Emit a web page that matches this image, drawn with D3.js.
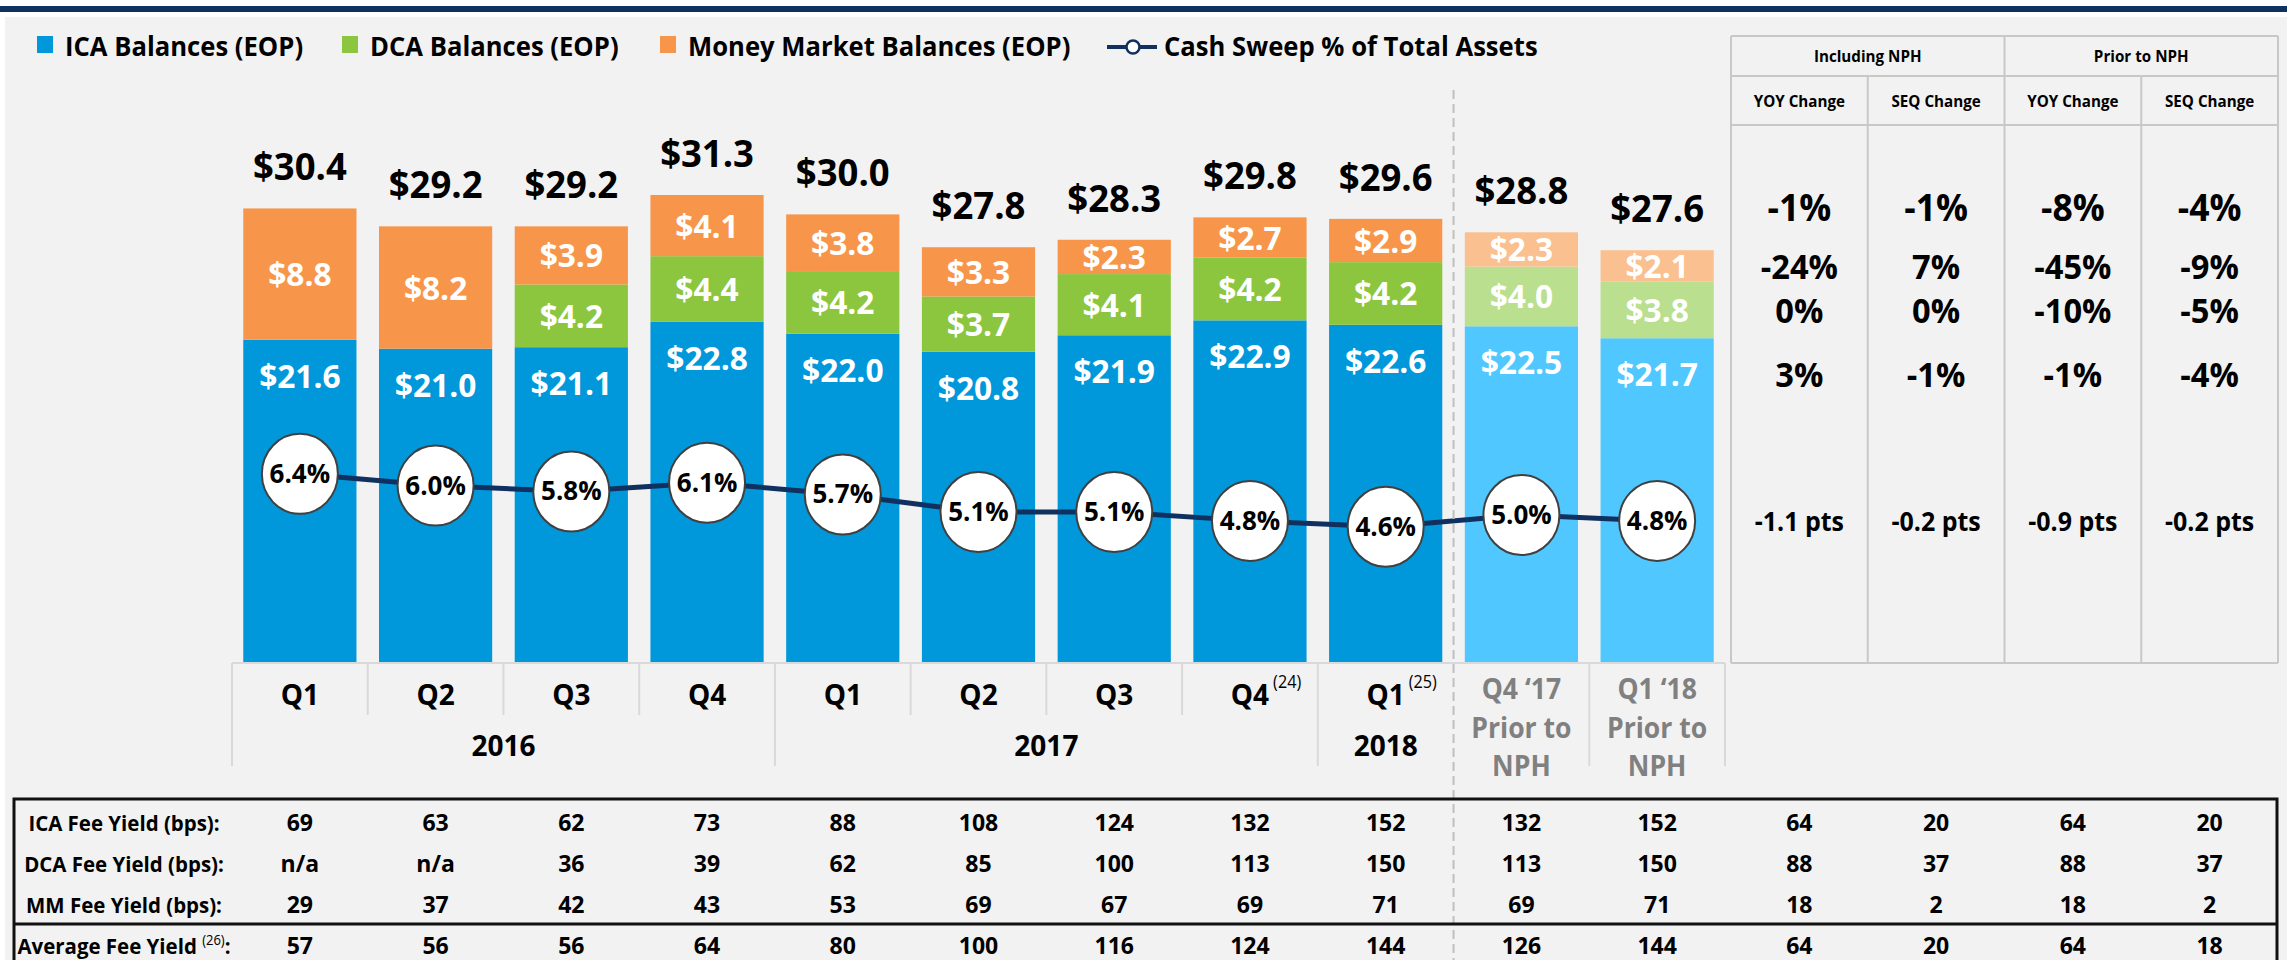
<!DOCTYPE html>
<html>
<head>
<meta charset="utf-8">
<script src="https://d3js.org/d3.v7.min.js"></script>
<style>
  html, body { margin: 0; padding: 0; background: #fff; }
  svg { display: block; }
  text { font-family: "Open Sans", "Noto Sans", sans-serif; font-weight: bold; }
</style>
</head>
<body>
<svg id="chart" width="2287" height="960"></svg>
<script>
// ---- data ----
const quarters = ['Q1', 'Q2', 'Q3', 'Q4', 'Q1', 'Q2', 'Q3', 'Q4', 'Q1', 'Q4 \u201817', 'Q1 \u201818'];
const quarterNotes = ['', '', '', '', '', '', '', '(24)', '(25)', '', ''];
const priorToNph = [false, false, false, false, false, false, false, false, false, true, true];
const years = [
  { label: '2016', first: 0, last: 3 },
  { label: '2017', first: 4, last: 7 },
  { label: '2018', first: 8, last: 8 }
];

const icaBalances = [21.6, 21.0, 21.1, 22.8, 22.0, 20.8, 21.9, 22.9, 22.6, 22.5, 21.7];
const dcaBalances = [0, 0, 4.2, 4.4, 4.2, 3.7, 4.1, 4.2, 4.2, 4.0, 3.8];
const mmBalances = [8.8, 8.2, 3.9, 4.1, 3.8, 3.3, 2.3, 2.7, 2.9, 2.3, 2.1];
const totalBalances = [30.4, 29.2, 29.2, 31.3, 30.0, 27.8, 28.3, 29.8, 29.6, 28.8, 27.6];
const cashSweepPct = [6.4, 6.0, 5.8, 6.1, 5.7, 5.1, 5.1, 4.8, 4.6, 5.0, 4.8];

const legendLabels = ['ICA Balances (EOP)', 'DCA Balances (EOP)', 'Money Market Balances (EOP)', 'Cash Sweep % of Total Assets'];

const changeGroups = ['Including NPH', 'Prior to NPH'];
const changeColumns = ['YOY Change', 'SEQ Change', 'YOY Change', 'SEQ Change'];
const changeTotal = ['-1%', '-1%', '-8%', '-4%'];
const changeMM = ['-24%', '7%', '-45%', '-9%'];
const changeDCA = ['0%', '0%', '-10%', '-5%'];
const changeICA = ['3%', '-1%', '-1%', '-4%'];
const changeSweep = ['-1.1 pts', '-0.2 pts', '-0.9 pts', '-0.2 pts'];

const feeRowLabels = ['ICA Fee Yield (bps):', 'DCA Fee Yield (bps):', 'MM Fee Yield (bps):', 'Average Fee Yield '];
const icaFeeYield = [69, 63, 62, 73, 88, 108, 124, 132, 152, 132, 152, 64, 20, 64, 20];
const dcaFeeYield = ['n/a', 'n/a', 36, 39, 62, 85, 100, 113, 150, 113, 150, 88, 37, 88, 37];
const mmFeeYield = [29, 37, 42, 43, 53, 69, 67, 69, 71, 69, 71, 18, 2, 18, 2];
const avgFeeYield = [57, 56, 56, 64, 80, 100, 116, 124, 144, 126, 144, 64, 20, 64, 18];

// ---- colours ----
const colors = { ica: '#0098da', dca: '#8cc63f', mm: '#f7964a' };
const priorColors = { ica: '#50c8ff', dca: '#badf8e', mm: '#fac090' };
const navy = '#10305f';
const gridGray = '#c8c8c8';

const svg = d3.select('#chart');
const W = 2287, H = 960;
const SQ = 0.95; // horizontal squeeze for word labels (slide font is narrower)

// text helper: anchor point at (x, y), optional horizontal squeeze
function addText(g, x, y, str, size, opts = {}) {
  return g.append('text')
    .attr('transform', `translate(${x},${y}) scale(${opts.sx || 1},1)`)
    .attr('text-anchor', opts.anchor || 'middle')
    .attr('fill', opts.fill || '#000')
    .style('font-size', size + 'px')
    .style('font-weight', opts.weight || 'bold')
    .text(str);
}

// page background + top rule
svg.append('rect').attr('x', 0).attr('y', 0).attr('width', W).attr('height', H).attr('fill', '#fff');
svg.append('rect').attr('x', 0).attr('y', 6).attr('width', W).attr('height', 6).attr('fill', navy);
svg.append('rect').attr('x', 5).attr('y', 17).attr('width', W - 5).attr('height', H - 17).attr('fill', '#f2f2f2');

// ---- scales ----
const baseY = 662;
const x = d3.scaleBand().domain(d3.range(quarters.length)).range([232, 1725]).paddingInner(0.166).paddingOuter(0.083);
const yBal = d3.scaleLinear().domain([0, 40]).range([baseY, baseY - 40 * 14.92]);
const yPct = d3.scaleLinear().domain([0, 10]).range([baseY, baseY - 10 * 29.4]);
const cx = i => x(i) + x.bandwidth() / 2;
const gapHalf = (x.step() - x.bandwidth()) / 2;
const edge = i => (i < quarters.length ? x(i) - gapHalf : x(quarters.length - 1) + x.bandwidth() + gapHalf);
const fmt = d3.format('.1f');

// ---- stacked bars ----
const keys = ['ica', 'dca', 'mm'];
const rows = quarters.map((q, i) => ({ ica: icaBalances[i], dca: dcaBalances[i], mm: mmBalances[i] }));
const series = d3.stack().keys(keys)(rows);
const segs = series.flatMap(s => s.map((d, i) => ({ y0: d[0], y1: d[1], i, key: s.key })).filter(d => d.y1 > d.y0));

const barG = svg.append('g');
barG.selectAll('rect')
  .data(segs)
  .enter().append('rect')
  .attr('x', d => x(d.i))
  .attr('width', x.bandwidth())
  .attr('y', d => yBal(d.y1))
  .attr('height', d => yBal(d.y0) - yBal(d.y1))
  .attr('fill', d => (priorToNph[d.i] ? priorColors : colors)[d.key]);

// segment labels (ICA sits near the top of its segment, the others centred)
const segLabelY = d => d.key === 'ica' ? yBal(d.y1) + 48 : (yBal(d.y0) + yBal(d.y1)) / 2 + 12;
barG.selectAll('text')
  .data(segs)
  .enter().append('text')
  .attr('transform', d => `translate(${cx(d.i)},${segLabelY(d)}) scale(0.96,1)`)
  .attr('text-anchor', 'middle')
  .attr('fill', '#fff')
  .style('font-size', '33px')
  .text(d => '$' + fmt(d.y1 - d.y0));

// totals
const tops = series[series.length - 1].map(d => d[1]);
svg.append('g').selectAll('text')
  .data(totalBalances)
  .enter().append('text')
  .attr('transform', (d, i) => `translate(${cx(i)},${yBal(tops[i]) - 28}) scale(0.96,1)`)
  .attr('text-anchor', 'middle')
  .attr('fill', '#000')
  .style('font-size', '38px')
  .text(d => '$' + fmt(d));

// ---- cash sweep line ----
const line = d3.line().x((d, i) => cx(i)).y(d => yPct(d));
svg.append('path')
  .datum(cashSweepPct)
  .attr('d', line)
  .attr('fill', 'none')
  .attr('stroke', navy)
  .attr('stroke-width', 5);

const dots = svg.append('g').selectAll('g')
  .data(cashSweepPct)
  .enter().append('g')
  .attr('transform', (d, i) => `translate(${cx(i)},${yPct(d)})`);
dots.append('ellipse')
  .attr('rx', 38).attr('ry', 40)
  .attr('fill', '#fff')
  .attr('stroke', '#404040')
  .attr('stroke-width', 2);
dots.append('text')
  .attr('y', 9)
  .attr('text-anchor', 'middle')
  .style('font-size', '26px')
  .text(d => fmt(d) + '%');

// ---- category axis ----
const axisG = svg.append('g');
axisG.append('line')
  .attr('x1', edge(0)).attr('x2', edge(quarters.length))
  .attr('y1', baseY + 1).attr('y2', baseY + 1)
  .attr('stroke', '#d9d9d9').attr('stroke-width', 2);

const yearEdges = new Set([0, 4, 8, 10, 11]);
d3.range(quarters.length + 1).filter(i => i !== 9).forEach(i => {
  axisG.append('line')
    .attr('x1', edge(i)).attr('x2', edge(i))
    .attr('y1', baseY + 1).attr('y2', yearEdges.has(i) ? 766 : 715)
    .attr('stroke', '#d9d9d9').attr('stroke-width', 2);
});

quarters.forEach((q, i) => {
  if (priorToNph[i]) {
    [q, 'Prior to', 'NPH'].forEach((t, k) => {
      addText(axisG, cx(i), 699 + k * 38.5, t, 28, { fill: '#808080', sx: SQ });
    });
  } else {
    const t = addText(axisG, cx(i), 705, q, 28);
    if (quarterNotes[i]) {
      const w = t.node().getComputedTextLength();
      addText(axisG, cx(i) + w / 2 + 4, 688, quarterNotes[i], 18, { anchor: 'start', weight: 'normal', sx: 0.9 });
    }
  }
});

years.forEach(yr => {
  addText(axisG, (edge(yr.first) + edge(yr.last + 1)) / 2, 756, yr.label, 28);
});

// dashed divider
svg.append('line')
  .attr('x1', edge(9)).attr('x2', edge(9))
  .attr('y1', 90).attr('y2', H)
  .attr('stroke', '#bfbfbf').attr('stroke-width', 2)
  .attr('stroke-dasharray', '9,5');

// ---- legend ----
const legendX = [37, 342, 660, 1107];
const legendG = svg.append('g');
[colors.ica, colors.dca, colors.mm].forEach((c, k) => {
  legendG.append('rect')
    .attr('x', legendX[k]).attr('y', 36).attr('width', 16).attr('height', 17)
    .attr('fill', c);
  addText(legendG, legendX[k] + 28, 56, legendLabels[k], 27, { anchor: 'start', sx: SQ });
});
legendG.append('line')
  .attr('x1', legendX[3]).attr('x2', legendX[3] + 50)
  .attr('y1', 47).attr('y2', 47)
  .attr('stroke', navy).attr('stroke-width', 4);
legendG.append('circle')
  .attr('cx', legendX[3] + 26).attr('cy', 47).attr('r', 6.5)
  .attr('fill', '#fff').attr('stroke', navy).attr('stroke-width', 2.5);
addText(legendG, legendX[3] + 57, 56, legendLabels[3], 27, { anchor: 'start', sx: SQ });

// ---- change table (right) ----
const tL = 1731, tR = 2278, tTop = 36, tMid1 = 76, tMid2 = 125, tBot = baseY + 1;
const colW = (tR - tL) / changeColumns.length;
const tg = svg.append('g');
[tTop, tMid1, tMid2, tBot].forEach(yy => {
  tg.append('line').attr('x1', tL).attr('x2', tR).attr('y1', yy).attr('y2', yy)
    .attr('stroke', gridGray).attr('stroke-width', 2);
});
d3.range(changeColumns.length + 1).forEach(k => {
  tg.append('line')
    .attr('x1', tL + k * colW).attr('x2', tL + k * colW)
    .attr('y1', k % 2 === 1 ? tMid1 : tTop).attr('y2', tBot)
    .attr('stroke', gridGray).attr('stroke-width', 2);
});
changeGroups.forEach((g, k) => addText(tg, tL + (k + 0.5) * 2 * colW, 62, g, 16, { sx: SQ }));
changeColumns.forEach((c, k) => addText(tg, tL + (k + 0.5) * colW, 107, c, 16, { sx: SQ }));

// rows line up with the labels of the last bar
const last = quarters.length - 1;
const lastIcaTop = yBal(series[0][last][1]);
const lastDca = series[1][last], lastMm = series[2][last];
const changeRows = [
  { vals: changeTotal, y: yBal(tops[last]) - 29, size: 37 },
  { vals: changeMM, y: (yBal(lastMm[0]) + yBal(lastMm[1])) / 2 + 13, size: 34 },
  { vals: changeDCA, y: (yBal(lastDca[0]) + yBal(lastDca[1])) / 2 + 13, size: 34 },
  { vals: changeICA, y: lastIcaTop + 49, size: 34 },
  { vals: changeSweep, y: yPct(cashSweepPct[last]) + 10, size: 26 }
];
changeRows.forEach(r => {
  r.vals.forEach((v, k) => addText(tg, tL + (k + 0.5) * colW, r.y, v, r.size, { sx: 0.96 }));
});

// ---- fee yield table (bottom) ----
const fTop = 799, fSep = 924, fL = 14, fR = 2277;
const fg = svg.append('g');
fg.append('path')
  .attr('d', `M${fL},${H + 10} V${fTop} H${fR} V${H + 10}`)
  .attr('fill', 'none').attr('stroke', '#111').attr('stroke-width', 3);
fg.append('line').attr('x1', fL).attr('x2', fR).attr('y1', fSep).attr('y2', fSep)
  .attr('stroke', '#111').attr('stroke-width', 3);

const feeColX = d3.range(quarters.length).map(cx)
  .concat(d3.range(changeColumns.length).map(k => tL + (k + 0.5) * colW));
const feeRows = [icaFeeYield, dcaFeeYield, mmFeeYield, avgFeeYield];
const feeBase = [831, 872, 913, 954];
feeRows.forEach((row, r) => {
  const lab = addText(fg, 124, feeBase[r], feeRowLabels[r], 22, { sx: 0.93 });
  if (r === 3) {
    lab.append('tspan').attr('dy', -9).style('font-size', '14px').style('font-weight', 'normal').text('(26)');
    lab.append('tspan').attr('dy', 9).text(':');
  }
  row.forEach((v, k) => addText(fg, feeColX[k], feeBase[r], v, 24, { sx: 0.96 }));
});
</script>
</body>
</html>
